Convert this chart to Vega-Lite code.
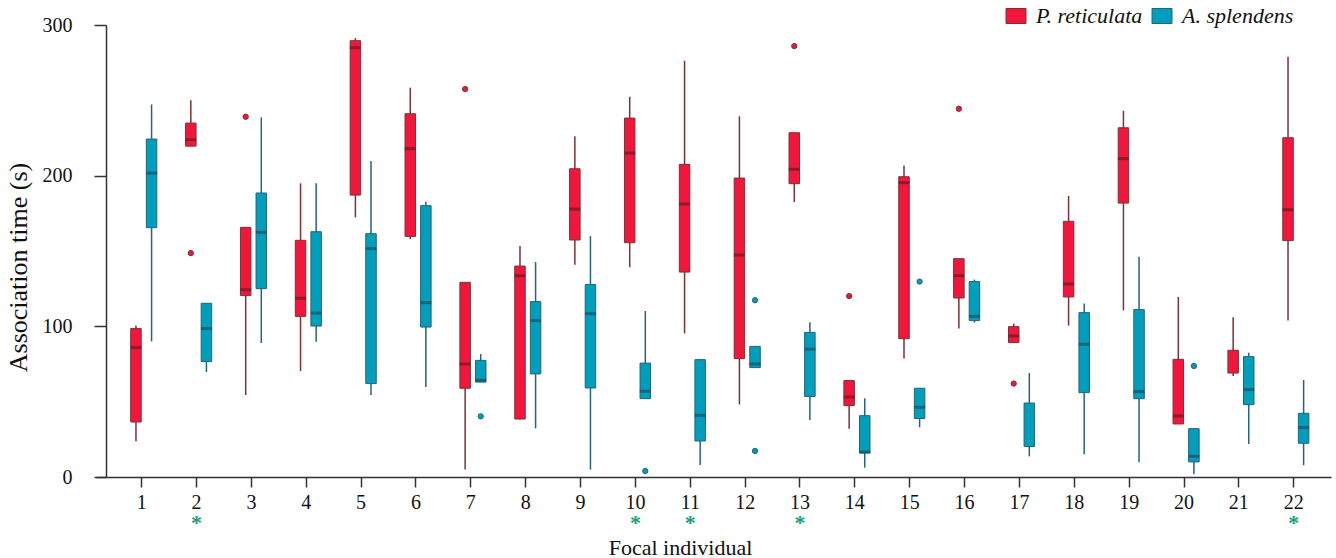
{
  "$schema": "https://vega.github.io/schema/vega-lite/v6.json",
  "width": 1235,
  "height": 452,
  "autosize": {"type": "none"},
  "padding": {"left": 96, "top": 25, "right": 5, "bottom": 81},
  "background": "white",
  "config": {"view": {"stroke": null}, "font": "Liberation Serif"},
  "datasets": {
    "boxes": [
      {"ind": 1, "species": "P. reticulata", "lo": 23.7, "q1": 36.5, "med": 85.9, "q3": 98.5, "hi": 100.5},
      {"ind": 1, "species": "A. splendens", "lo": 90.0, "q1": 165.5, "med": 201.7, "q3": 224.3, "hi": 247.3},
      {"ind": 2, "species": "P. reticulata", "lo": 219.6, "q1": 219.6, "med": 223.9, "q3": 234.9, "hi": 250.0},
      {"ind": 2, "species": "A. splendens", "lo": 69.7, "q1": 76.6, "med": 98.5, "q3": 115.3, "hi": 115.3},
      {"ind": 3, "species": "P. reticulata", "lo": 54.4, "q1": 120.4, "med": 124.3, "q3": 165.7, "hi": 165.7},
      {"ind": 3, "species": "A. splendens", "lo": 88.9, "q1": 125.0, "med": 162.4, "q3": 188.5, "hi": 238.7},
      {"ind": 4, "species": "P. reticulata", "lo": 70.3, "q1": 106.6, "med": 118.6, "q3": 157.1, "hi": 194.9},
      {"ind": 4, "species": "A. splendens", "lo": 89.8, "q1": 100.2, "med": 108.8, "q3": 162.8, "hi": 194.9},
      {"ind": 5, "species": "P. reticulata", "lo": 172.3, "q1": 187.1, "med": 284.9, "q3": 289.6, "hi": 291.3},
      {"ind": 5, "species": "A. splendens", "lo": 54.4, "q1": 62.0, "med": 151.6, "q3": 161.5, "hi": 209.7},
      {"ind": 6, "species": "P. reticulata", "lo": 157.9, "q1": 159.7, "med": 217.9, "q3": 241.1, "hi": 258.4},
      {"ind": 6, "species": "A. splendens", "lo": 59.7, "q1": 99.5, "med": 115.7, "q3": 180.1, "hi": 182.7},
      {"ind": 7, "species": "P. reticulata", "lo": 4.9, "q1": 58.9, "med": 75.0, "q3": 129.2, "hi": 129.2},
      {"ind": 7, "species": "A. splendens", "lo": 63.0, "q1": 63.0, "med": 64.2, "q3": 77.4, "hi": 81.6},
      {"ind": 8, "species": "P. reticulata", "lo": 38.1, "q1": 38.5, "med": 133.6, "q3": 140.0, "hi": 153.3},
      {"ind": 8, "species": "A. splendens", "lo": 32.3, "q1": 68.4, "med": 103.8, "q3": 116.4, "hi": 142.7},
      {"ind": 9, "species": "P. reticulata", "lo": 140.9, "q1": 157.3, "med": 177.8, "q3": 204.6, "hi": 226.1},
      {"ind": 9, "species": "A. splendens", "lo": 4.9, "q1": 59.1, "med": 108.4, "q3": 127.7, "hi": 159.9},
      {"ind": 10, "species": "P. reticulata", "lo": 139.2, "q1": 155.5, "med": 215.0, "q3": 238.2, "hi": 252.4},
      {"ind": 10, "species": "A. splendens", "lo": 52.0, "q1": 52.0, "med": 56.9, "q3": 75.6, "hi": 110.2},
      {"ind": 11, "species": "P. reticulata", "lo": 95.2, "q1": 136.0, "med": 181.2, "q3": 207.5, "hi": 276.3},
      {"ind": 11, "species": "A. splendens", "lo": 8.0, "q1": 23.9, "med": 40.9, "q3": 77.9, "hi": 77.9},
      {"ind": 12, "species": "P. reticulata", "lo": 48.2, "q1": 78.6, "med": 147.3, "q3": 198.4, "hi": 239.4},
      {"ind": 12, "species": "A. splendens", "lo": 72.6, "q1": 72.6, "med": 75.0, "q3": 86.7, "hi": 86.7},
      {"ind": 13, "species": "P. reticulata", "lo": 182.5, "q1": 194.7, "med": 204.2, "q3": 228.5, "hi": 228.5},
      {"ind": 13, "species": "A. splendens", "lo": 37.8, "q1": 53.4, "med": 84.9, "q3": 96.0, "hi": 102.7},
      {"ind": 14, "species": "P. reticulata", "lo": 32.1, "q1": 47.4, "med": 53.1, "q3": 64.0, "hi": 64.0},
      {"ind": 14, "species": "A. splendens", "lo": 6.2, "q1": 15.9, "med": 16.6, "q3": 40.7, "hi": 52.2},
      {"ind": 15, "species": "P. reticulata", "lo": 78.6, "q1": 91.8, "med": 195.3, "q3": 199.3, "hi": 206.8},
      {"ind": 15, "species": "A. splendens", "lo": 33.0, "q1": 38.8, "med": 46.3, "q3": 58.9, "hi": 58.9},
      {"ind": 16, "species": "P. reticulata", "lo": 98.5, "q1": 118.8, "med": 133.6, "q3": 144.9, "hi": 144.9},
      {"ind": 16, "species": "A. splendens", "lo": 102.5, "q1": 103.8, "med": 106.6, "q3": 129.7, "hi": 131.0},
      {"ind": 17, "species": "P. reticulata", "lo": 89.2, "q1": 89.2, "med": 93.6, "q3": 99.8, "hi": 101.8},
      {"ind": 17, "species": "A. splendens", "lo": 13.7, "q1": 20.2, "med": null, "q3": 49.1, "hi": 69.0},
      {"ind": 18, "species": "P. reticulata", "lo": 100.5, "q1": 119.5, "med": 128.1, "q3": 169.7, "hi": 186.5},
      {"ind": 18, "species": "A. splendens", "lo": 15.1, "q1": 56.0, "med": 88.1, "q3": 109.1, "hi": 115.1},
      {"ind": 19, "species": "P. reticulata", "lo": 110.6, "q1": 181.8, "med": 211.3, "q3": 231.8, "hi": 243.1},
      {"ind": 19, "species": "A. splendens", "lo": 9.8, "q1": 52.0, "med": 56.7, "q3": 111.1, "hi": 146.2},
      {"ind": 20, "species": "P. reticulata", "lo": 35.2, "q1": 35.2, "med": 40.5, "q3": 78.1, "hi": 119.5},
      {"ind": 20, "species": "A. splendens", "lo": 1.8, "q1": 10.0, "med": 13.7, "q3": 32.1, "hi": 32.1},
      {"ind": 21, "species": "P. reticulata", "lo": 67.0, "q1": 69.0, "med": null, "q3": 84.1, "hi": 106.0},
      {"ind": 21, "species": "A. splendens", "lo": 21.9, "q1": 48.0, "med": 58.0, "q3": 79.9, "hi": 82.5},
      {"ind": 22, "species": "P. reticulata", "lo": 103.8, "q1": 156.9, "med": 177.4, "q3": 225.2, "hi": 279.0},
      {"ind": 22, "species": "A. splendens", "lo": 7.8, "q1": 22.4, "med": 32.8, "q3": 42.3, "hi": 64.4}
    ],
    "outliers": [
      {"ind": 2, "species": "P. reticulata", "value": 148.6},
      {"ind": 3, "species": "P. reticulata", "value": 239.1},
      {"ind": 7, "species": "P. reticulata", "value": 257.5},
      {"ind": 7, "species": "A. splendens", "value": 40.3},
      {"ind": 10, "species": "A. splendens", "value": 4.0},
      {"ind": 12, "species": "A. splendens", "value": 117.3},
      {"ind": 12, "species": "A. splendens", "value": 17.3},
      {"ind": 13, "species": "P. reticulata", "value": 286.0},
      {"ind": 14, "species": "P. reticulata", "value": 120.1},
      {"ind": 15, "species": "A. splendens", "value": 129.7},
      {"ind": 16, "species": "P. reticulata", "value": 244.4},
      {"ind": 17, "species": "P. reticulata", "value": 62.0},
      {"ind": 20, "species": "A. splendens", "value": 73.7}
    ],
    "sig": [
      {"ind": 2, "mark": "*"},
      {"ind": 10, "mark": "*"},
      {"ind": 11, "mark": "*"},
      {"ind": 13, "mark": "*"},
      {"ind": 22, "mark": "*"}
    ]
  },
  "data": {"name": "boxes"},
  "layer": [
    {
      "mark": {"type": "rule", "strokeWidth": 1.5},
      "encoding": {
        "x": {
          "field": "ind", "type": "ordinal",
          "scale": {"paddingInner": 0.4, "paddingOuter": 0.456, "align": 0.584},
          "axis": {
            "title": "Focal individual", "labelAngle": 0, "labelFontSize": 20, "labelFont": "Liberation Serif",
            "labelColor": "#111111", "tickSize": 10, "tickColor": "#333333", "tickWidth": 1.5,
            "domainColor": "#333333", "domainWidth": 1.5, "labelPadding": 5,
            "titleFontSize": 22, "titleFontWeight": "normal", "titleFont": "Liberation Serif", "titleColor": "#111111",
            "titleX": 584, "titleY": 77, "titleBaseline": "alphabetic"
          }
        },
        "xOffset": {
          "field": "species", "type": "nominal",
          "scale": {"domain": ["P. reticulata", "A. splendens"], "range": [5.5, 31.6], "paddingInner": 0.327, "paddingOuter": 0}
        },
        "y": {
          "field": "lo", "type": "quantitative",
          "scale": {"domain": [0, 300], "nice": false, "zero": false},
          "axis": {
            "title": "Association time (s)", "values": [0, 100, 200, 300], "offset": -10, "grid": false,
            "tickSize": 12, "tickColor": "#333333", "tickWidth": 1.5, "domainColor": "#333333", "domainWidth": 1.5,
            "labelPadding": 22, "labelFontSize": 20, "labelFont": "Liberation Serif", "labelColor": "#111111",
            "titleFontSize": 26, "titleFontWeight": "normal", "titleFont": "Liberation Serif", "titleColor": "#111111",
            "titlePadding": 11, "titleY": 242
          }
        },
        "y2": {"field": "hi"},
        "stroke": {
          "field": "species", "type": "nominal",
          "scale": {"domain": ["P. reticulata", "A. splendens"], "range": ["#7a3237", "#25647a"]},
          "legend": {
            "orient": "none", "legendX": 909, "legendY": -20, "direction": "horizontal", "title": null,
            "symbolType": "M-1,-0.75H1V0.75H-1Z", "symbolSize": 400, "symbolStrokeWidth": 1,
            "labelFontSize": 22, "labelFontStyle": "italic", "labelFont": "Liberation Serif", "labelColor": "#111111",
            "labelOffset": 9, "columnPadding": 7, "padding": 0
          }
        }
      }
    },
    {
      "mark": {"type": "bar", "strokeWidth": 1},
      "encoding": {
        "x": {"field": "ind", "type": "ordinal"},
        "xOffset": {"field": "species", "type": "nominal"},
        "y": {"field": "q1", "type": "quantitative"},
        "y2": {"field": "q3"},
        "fill": {
          "field": "species", "type": "nominal",
          "scale": {"domain": ["P. reticulata", "A. splendens"], "range": ["#f3163c", "#009ebd"]},
          "legend": {
            "orient": "none", "legendX": 909, "legendY": -20, "direction": "horizontal", "title": null,
            "symbolType": "M-1,-0.75H1V0.75H-1Z", "symbolSize": 400, "symbolStrokeWidth": 1,
            "labelFontSize": 22, "labelFontStyle": "italic", "labelFont": "Liberation Serif", "labelColor": "#111111",
            "labelOffset": 9, "columnPadding": 7, "padding": 0
          }
        },
        "stroke": {"field": "species", "type": "nominal"}
      }
    },
    {
      "mark": {"type": "tick", "thickness": 3, "size": 11},
      "encoding": {
        "x": {"field": "ind", "type": "ordinal"},
        "xOffset": {"field": "species", "type": "nominal"},
        "y": {"field": "med", "type": "quantitative"},
        "color": {
          "field": "species", "type": "nominal",
          "scale": {"domain": ["P. reticulata", "A. splendens"], "range": ["#6a1a22", "#1d4e5c"]},
          "legend": null
        }
      }
    },
    {
      "data": {"name": "outliers"},
      "mark": {"type": "circle", "size": 28, "strokeWidth": 1, "opacity": 1},
      "encoding": {
        "x": {"field": "ind", "type": "ordinal"},
        "xOffset": {"field": "species", "type": "nominal"},
        "y": {"field": "value", "type": "quantitative"},
        "fill": {"field": "species", "type": "nominal"},
        "stroke": {"field": "species", "type": "nominal"}
      }
    },
    {
      "data": {"name": "sig"},
      "mark": {"type": "text", "fontSize": 22, "font": "Liberation Serif", "fontWeight": "bold", "color": "#1b9e77", "baseline": "top", "align": "center"},
      "encoding": {
        "x": {"field": "ind", "type": "ordinal"},
        "y": {"datum": -24.0},
        "text": {"field": "mark"}
      }
    }
  ]
}
